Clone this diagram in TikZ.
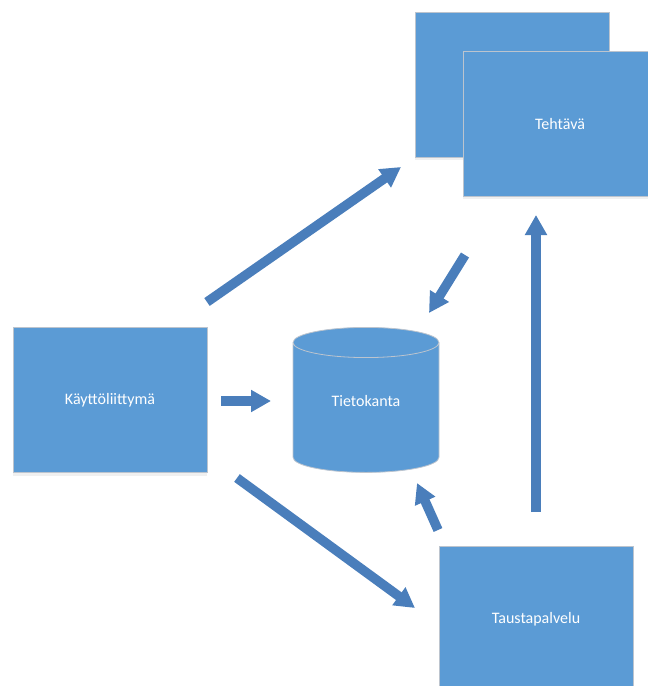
\documentclass[tikz,border=0pt]{standalone}
\usepackage{fontspec}
\setmainfont{Carlito}
\usepackage{tikz}
\usetikzlibrary{shapes.geometric, arrows.meta, shadows}
\definecolor{boxblue}{HTML}{5B9BD5}
\definecolor{boxline}{HTML}{BCC4CE}
\definecolor{arrowblue}{HTML}{4A7EBB}

\begin{document}
\begin{tikzpicture}[
  x=1pt, y=-1pt,
  box/.style={rectangle, draw=boxline, line width=0.8pt, fill=boxblue,
    minimum width=194pt, minimum height=145pt, text=white, font=\fontsize{16}{19}\selectfont,
    drop shadow={opacity=0.12, shadow xshift=0pt, shadow yshift=-3pt}},
  dbshape/.style={cylinder, shape border rotate=90, aspect=0.4, draw=boxline, line width=0.8pt,
    fill=boxblue, minimum width=146pt, minimum height=145pt, text=white,
    text depth=17pt, font=\fontsize{16}{19}\selectfont},
  arrow/.style={line width=9.5pt, color=arrowblue, -{Triangle[length=20pt, width=21pt]}}
]
  \useasboundingbox (0,0) rectangle (648,686);
  \begin{scope}
  \clip (0,0) rectangle (648,686);

  \node[box] (taskback) at (512,84.5) {};
  \node[box] (task) at (560,123.5) {Tehtävä};
  \node[box] (ui) at (110,400) {Käyttöliittymä};
  \node[box] (service) at (536,619) {Taustapalvelu};
  \node[dbshape, anchor=north] (db) at (366,327) {Tietokanta};

  % arrow ends
  \coordinate (a1s) at (207,302);  \coordinate (a1e) at (401,167);
  \coordinate (a2s) at (465,255);  \coordinate (a2e) at (429,313);
  \coordinate (a3s) at (221,401);  \coordinate (a3e) at (271,401);
  \coordinate (a4s) at (237,478);  \coordinate (a4e) at (415,608);
  \coordinate (a5s) at (438,530);  \coordinate (a5e) at (417,483);
  \coordinate (a6s) at (536,512);  \coordinate (a6e) at (536,215);

  \draw[arrow] (a1s) -- (a1e);
  \draw[arrow] (a2s) -- (a2e);
  \draw[arrow] (a3s) -- (a3e);
  \draw[arrow] (a4s) -- (a4e);
  \draw[arrow] (a5s) -- (a5e);
  \draw[arrow] (a6s) -- (a6e);
  \end{scope}
\end{tikzpicture}
\end{document}
